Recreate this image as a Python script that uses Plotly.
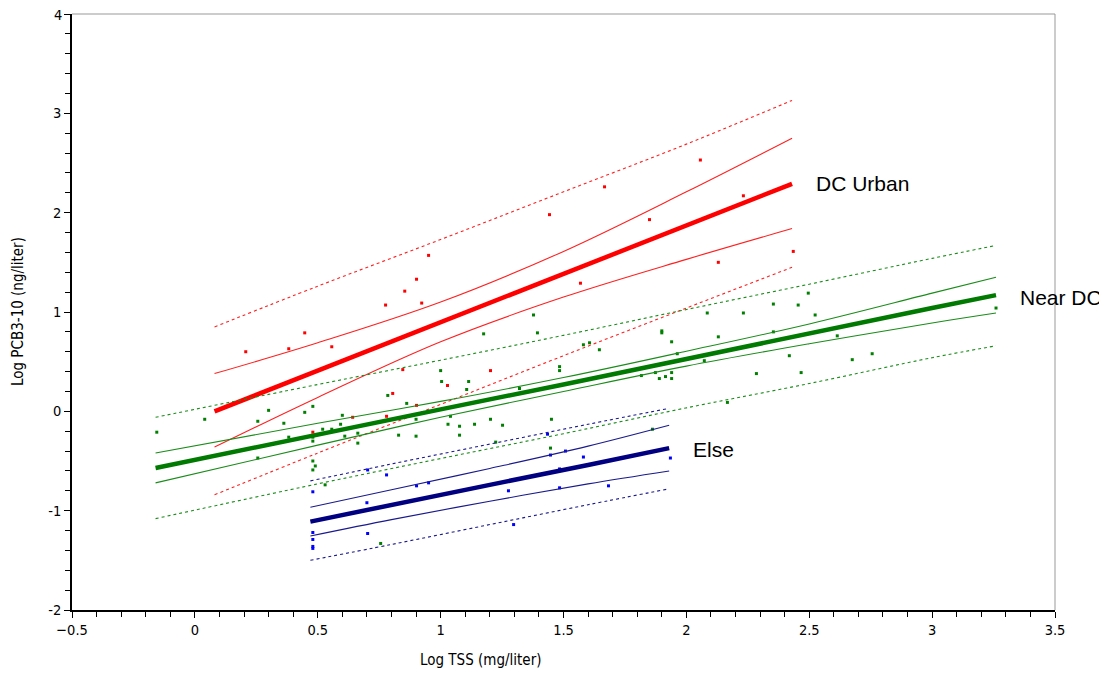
import plotly.graph_objects as go

# ---------------- data ----------------
# DC Urban (red)
red_x = [0.08, 0.5, 1.0, 1.5, 2.0, 2.43]
red_fit = [0.00, 0.41, 0.90, 1.38, 1.87, 2.29]
red_ci_hi = [0.38, 0.69, 1.10, 1.61, 2.21, 2.75]
red_ci_lo = [-0.36, 0.14, 0.70, 1.15, 1.53, 1.84]
red_pi_hi = [0.85, 1.26, 1.73, 2.21, 2.69, 3.13]
red_pi_lo = [-0.84, -0.42, 0.07, 0.56, 1.04, 1.45]
red_pts_x = [0.207, 0.382, 0.447, 0.557, 0.776, 0.854, 0.902, 0.923, 0.951, 0.846,
             1.028, 1.203, 0.805, 1.443, 1.667, 2.057, 1.850, 2.232, 2.130, 2.435,
             1.569, 0.642, 0.780, 0.480, 0.902]
red_pts_y = [0.60, 0.63, 0.79, 0.65, 1.07, 1.21, 1.33, 1.09, 1.57, 0.42,
             0.26, 0.41, 0.18, 1.98, 2.26, 2.53, 1.93, 2.17, 1.50, 1.61,
             1.29, -0.06, -0.05, -0.21, 0.06]

# Near DC (green)
grn_x = [-0.16, 0.5, 1.0, 1.5, 2.0, 2.5, 3.0, 3.26]
grn_fit = [-0.57, -0.23, 0.02, 0.27, 0.53, 0.78, 1.04, 1.17]
grn_ci_hi = [-0.42, -0.12, 0.10, 0.34, 0.605, 0.88, 1.19, 1.35]
grn_ci_lo = [-0.72, -0.34, -0.06, 0.20, 0.455, 0.68, 0.89, 0.99]
grn_pi_hi = [-0.06, 0.27, 0.515, 0.765, 1.025, 1.28, 1.54, 1.67]
grn_pi_lo = [-1.08, -0.73, -0.475, -0.225, 0.035, 0.28, 0.54, 0.66]
grn_pts_x = [-0.155, 0.04, 0.30, 0.256, 0.362, 0.447, 0.48, 0.60, 0.52, 0.557,
             0.593, 0.61, 0.663, 0.663, 0.382, 0.48, 0.48, 0.48, 0.49, 0.48,
             0.256, 0.53, 0.785, 1.378, 1.175, 1.394, 1.581, 1.606, 1.646, 1.484,
             1.484, 1.0, 1.004, 1.114, 1.106, 0.862, 0.90, 1.04, 1.03, 1.077,
             1.077, 1.138, 1.203, 1.252, 1.451, 0.829, 0.90, 1.224, 1.321, 1.447,
             0.756, 2.496, 2.354, 2.455, 2.232, 2.085, 2.524, 1.90, 1.90, 1.94,
             2.13, 1.963, 2.073, 2.354, 2.419, 1.817, 1.89, 1.915, 1.94, 1.94,
             1.874, 2.285, 2.467, 2.167, 1.862, 3.26, 2.614, 2.675, 2.756]
grn_pts_y = [-0.21, -0.08, 0.01, -0.10, -0.12, -0.01, 0.05, -0.04, -0.18, -0.18,
             -0.13, -0.25, -0.22, -0.32, -0.26, -0.26, -0.30, -0.50, -0.55, -0.59,
             -0.47, -0.74, 0.16, 0.97, 0.78, 0.79, 0.67, 0.69, 0.62, 0.45,
             0.41, 0.41, 0.30, 0.30, 0.22, 0.08, -0.08, -0.05, -0.13, -0.15,
             -0.24, -0.13, -0.08, -0.14, -0.08, -0.24, -0.25, -0.31, 0.23, -0.37,
             -1.33, 1.19, 1.08, 1.07, 0.99, 0.99, 0.97, 0.81, 0.79, 0.70,
             0.75, 0.58, 0.51, 0.80, 0.56, 0.36, 0.33, 0.35, 0.33, 0.39,
             0.39, 0.38, 0.39, 0.09, -0.18, 1.04, 0.76, 0.52, 0.58]

# Else (blue)
blu_x = [0.47, 0.8, 1.2, 1.6, 1.93]
blu_fit = [-1.11, -0.94, -0.74, -0.54, -0.37]
blu_ci_hi = [-0.965, -0.79, -0.575, -0.35, -0.14]
blu_ci_lo = [-1.255, -1.09, -0.905, -0.73, -0.60]
blu_pi_hi = [-0.70, -0.53, -0.33, -0.13, 0.03]
blu_pi_lo = [-1.50, -1.34, -1.14, -0.94, -0.78]
blu_pts_x = [0.48, 0.703, 0.78, 0.902, 0.951, 0.70, 0.703, 0.48, 0.48, 0.48,
             0.48, 1.447, 1.508, 1.581, 1.484, 1.276, 1.484, 1.683, 1.935, 1.297,
             1.435]
blu_pts_y = [-0.81, -0.59, -0.64, -0.75, -0.72, -0.92, -1.23, -1.22, -1.29, -1.36,
             -1.38, -0.44, -0.40, -0.46, -0.58, -0.80, -0.77, -0.75, -0.47, -1.14,
             -0.23]

group_labels = ["DC Urban", "Near DC", "Else"]
label_pos_x = [2.52, 3.35, 2.02]
label_pos_y = [2.29, 1.15, -0.38]

y_ticks = [-2, -1, 0, 1, 2, 3, 4]
x_title = "Log TSS (mg/liter)"
y_title = "Log PCB3-10 (ng/liter)"

# ---------------- figure ----------------
fig = go.Figure()

groups = [
    (red_x, red_fit, red_ci_hi, red_ci_lo, red_pi_hi, red_pi_lo, red_pts_x, red_pts_y,
     "#ff0000", "#ff0000", "#ff2020"),
    (grn_x, grn_fit, grn_ci_hi, grn_ci_lo, grn_pi_hi, grn_pi_lo, grn_pts_x, grn_pts_y,
     "#008000", "#007a00", "#1a8c1a"),
    (blu_x, blu_fit, blu_ci_hi, blu_ci_lo, blu_pi_hi, blu_pi_lo, blu_pts_x, blu_pts_y,
     "#0000ff", "#000080", "#1a1a8c"),
]

for gx, fit, cih, cil, pih, pil, px, py, pcol, lcol, thin in groups:
    fig.add_trace(go.Scatter(x=px, y=py, mode="markers",
                             marker=dict(symbol="square", size=3, color=pcol, line=dict(width=0)),
                             showlegend=False, hoverinfo="skip"))
    for yy in (pih, pil):
        fig.add_trace(go.Scatter(x=gx, y=yy, mode="lines", line_shape="spline",
                                 line=dict(color=thin, width=1.1, dash="3px,3px"),
                                 showlegend=False, hoverinfo="skip"))
    for yy in (cih, cil):
        fig.add_trace(go.Scatter(x=gx, y=yy, mode="lines", line_shape="spline",
                                 line=dict(color=thin, width=1.1),
                                 showlegend=False, hoverinfo="skip"))
    fig.add_trace(go.Scatter(x=gx, y=fit, mode="lines",
                             line=dict(color=lcol, width=4.5),
                             showlegend=False, hoverinfo="skip"))

for t, ax_, ay_ in zip(group_labels, label_pos_x, label_pos_y):
    fig.add_annotation(x=ax_, y=ay_, text=t, showarrow=False, xanchor="left", yanchor="middle",
                       font=dict(family="Liberation Sans, Arial, sans-serif", size=21, color="black"))

tickfont = dict(family="DejaVu Sans Condensed, Liberation Sans Narrow, Liberation Sans, Arial, sans-serif",
                size=14.5, color="black")
titlefont = dict(family="DejaVu Sans Condensed, Liberation Sans Narrow, Liberation Sans, Arial, sans-serif",
                 size=15, color="black")

# page has an 8px body margin; size the figure so the plot box lands where the reference has it
OFF = 8
W, H = 1107 - OFF, 677 - OFF
L, R, T, B = 72 - OFF, 52, 14 - OFF, 67

fig.update_layout(
    width=W, height=H,
    margin=dict(l=L, r=R, t=T, b=B, autoexpand=False),
    paper_bgcolor="white", plot_bgcolor="white",
    showlegend=False,
    xaxis=dict(range=[-0.5, 3.5], dtick=0.5, tick0=-0.5, ticks="outside", ticklen=6,
               tickcolor="black", showline=True, linecolor="black", linewidth=1.5,
               showgrid=False, zeroline=False, tickfont=tickfont, automargin=False,
               minor=dict(dtick=0.1, ticks="outside", ticklen=5, tickcolor="black")),
    yaxis=dict(range=[-2, 4], tickmode="array", tickvals=y_ticks,
               ticktext=[str(v) if v != y_ticks[-1] else "" for v in y_ticks],
               ticks="outside", ticklen=6,
               tickcolor="black", showline=True, linecolor="black", linewidth=1.5,
               showgrid=False, zeroline=False, tickfont=tickfont, automargin=False,
               minor=dict(dtick=0.2, ticks="outside", ticklen=5, tickcolor="black")),
)

plot_w = W - L - R
plot_h = H - T - B
# top tick label drawn as annotation so it is not dropped at the figure edge
fig.add_annotation(x=0, y=y_ticks[-1], xref="paper", yref="y", text=str(y_ticks[-1]),
                   showarrow=False, xanchor="right", yanchor="middle", xshift=-8, yshift=-1,
                   font=tickfont)
# x title centred at page pixel ~(480, 660); y title at page x ~18
fig.add_annotation(x=(480 - OFF - L) / plot_w, y=-((660 - OFF) - (T + plot_h)) / plot_h,
                   xref="paper", yref="paper", text=x_title, showarrow=False,
                   xanchor="center", yanchor="middle", font=titlefont)
fig.add_annotation(x=-(L - (18 - OFF)) / plot_w, y=0.5, xref="paper", yref="paper",
                   text=y_title, showarrow=False, textangle=-90,
                   xanchor="center", yanchor="middle", font=titlefont)

# light frame on top and right
fig.add_shape(type="line", xref="paper", yref="paper", x0=0, x1=1, y0=1, y1=1,
              line=dict(color="#999999", width=1))
fig.add_shape(type="line", xref="paper", yref="paper", x0=1, x1=1, y0=0, y1=1,
              line=dict(color="#999999", width=1))

fig.write_html("out.html")
